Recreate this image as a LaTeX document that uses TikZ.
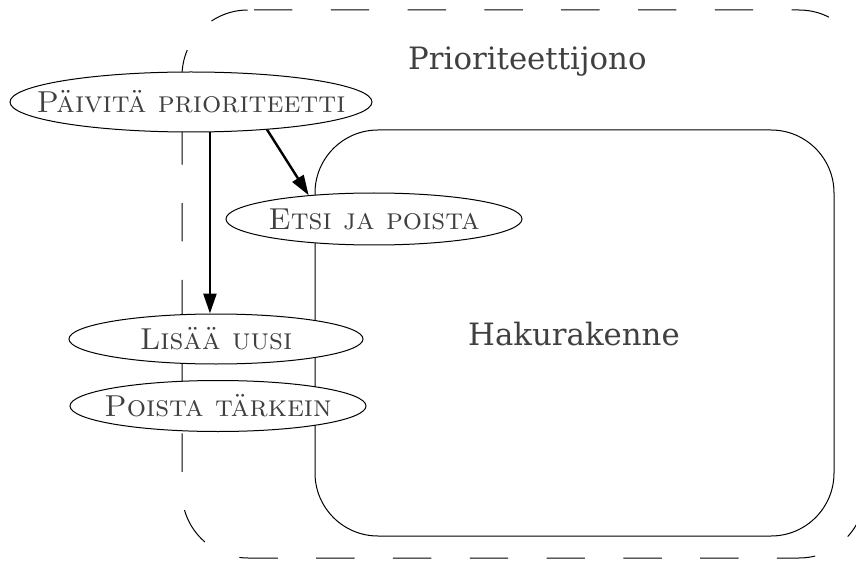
\documentclass[tikz,border=0pt]{standalone}
\usepackage{fontspec}
\newfontfamily\boxfont{DejaVu Serif}
\usetikzlibrary{arrows.meta,shapes.geometric}
\definecolor{txtgray}{HTML}{404040}
% operation names keep the ellipse at its given size
\newcommand\optext[1]{\makebox[0pt]{#1}}
\tikzset{
  op/.style={ellipse, draw, line width=1pt, fill=white, inner sep=0pt,
    text=txtgray, font=\fontsize{30.3}{33}\selectfont\scshape},
  arr/.style={line width=2.4pt, -{Triangle[length=20pt,width=13pt]}},
  boxlabel/.style={anchor=base west, inner sep=0pt, text=txtgray,
    font=\boxfont\fontsize{30.8}{34}\selectfont},
  outerbox/.style={line width=1pt, dash pattern=on 38.4pt off 38.4pt,
    dash phase=70.8pt, rounded corners=66pt},
  innerbox/.style={line width=1pt, rounded corners=63pt}
}
\begin{document}
\begin{tikzpicture}[x=1pt,y=-1pt]
\useasboundingbox (0,0) rectangle (856,561);
% containers: the queue outline runs clockwise from the top edge
\draw[outerbox] (248,10) -- (865,10) -- (865,558) -- (182,558) -- (182,10) -- (248,10);
\draw[innerbox] (315,130) rectangle (834,536);
% operations
\node[op, minimum width=362pt, minimum height=60pt] (paiv) at (191,102) {\optext{Päivitä prioriteetti}};
\node[op, minimum width=296pt, minimum height=52pt] (etsi) at (374,219) {\optext{Etsi ja poista}};
\node[op, minimum width=294pt, minimum height=50pt] (lis) at (216,339) {\optext{Lisää uusi}};
\node[op, minimum width=296pt, minimum height=51pt] (poi) at (218,406) {\optext{Poista tärkein}};
% calls
\draw[arr] (paiv.-58) -- (paiv.-58 |- lis.north);
\draw[arr] (paiv.-20) -- (etsi.160);
% container titles
\node[boxlabel] (pq) at (408,70) {Prioriteettijono};
\node[boxlabel] (hk) at (468,345) {Hakurakenne};
\end{tikzpicture}
\end{document}
